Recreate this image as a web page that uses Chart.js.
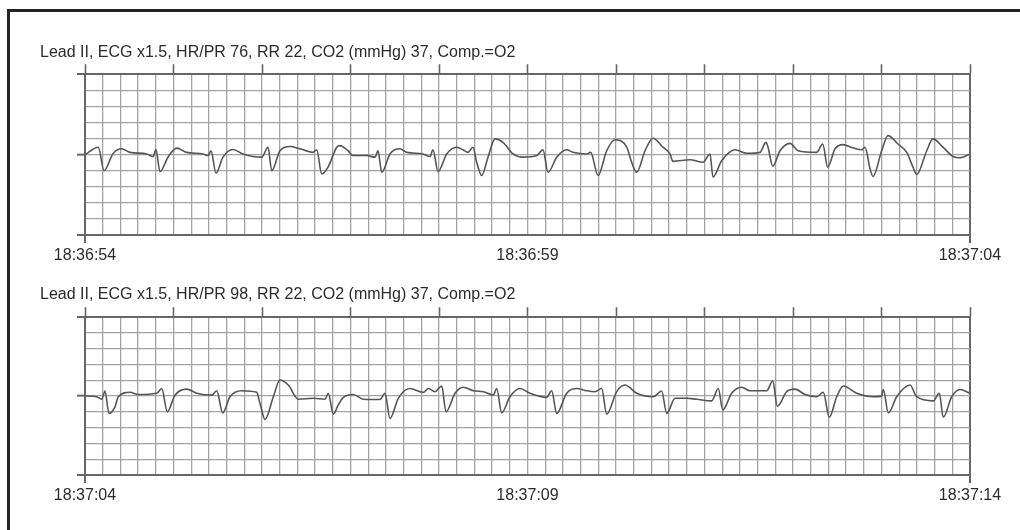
<!DOCTYPE html>
<html>
<head>
<meta charset="utf-8">
<title>ECG strips</title>
<script src="https://cdn.jsdelivr.net/npm/chart.js@4.4.1/dist/chart.umd.min.js"></script>
<style>
  html, body { margin: 0; padding: 0; background: #fff; }
  body { width: 1020px; height: 530px; position: relative; overflow: hidden; }
  .frame { position: absolute; left: 7px; top: 9px; width: 1100px; height: 600px;
           border-left: 3px solid #222; border-top: 3px solid #222; }
  canvas { position: absolute; left: 0; }
  #strip1 { top: 0; }
  #strip2 { top: 265px; }
</style>
</head>
<body>
<div class="frame"></div>
<canvas id="strip1" width="1020" height="265"></canvas>
<canvas id="strip2" width="1020" height="240"></canvas>
<script>
// strip headers and time stamps
const title1 = 'Lead II, ECG x1.5, HR/PR 76, RR 22, CO2 (mmHg) 37, Comp.=O2';
const title2 = 'Lead II, ECG x1.5, HR/PR 98, RR 22, CO2 (mmHg) 37, Comp.=O2';
const timeLabels1 = ['18:36:54', '18:36:59', '18:37:04'];
const timeLabels2 = ['18:37:04', '18:37:09', '18:37:14'];
const labelSeconds = [0, 5, 10];

// trace 1 (seconds from start, mV)
const strip1Sec = [0, 0.150, 0.215, 0.316, 0.415, 0.508, 0.697, 0.768, 0.802, 0.847,
  0.938, 1.036, 1.149, 1.333, 1.390, 1.424, 1.480, 1.559, 1.672, 1.785,
  1.997, 2.068, 2.110, 2.203, 2.316, 2.429, 2.576, 2.618, 2.675, 2.746,
  2.844, 2.881, 2.972, 3.028, 3.183, 3.277, 3.311, 3.353, 3.446, 3.559,
  3.635, 3.819, 3.898, 3.932, 3.989, 4.087, 4.200, 4.271, 4.328, 4.384,
  4.426, 4.482, 4.554, 4.633, 4.723, 4.836, 4.949, 5.104, 5.175, 5.232,
  5.330, 5.443, 5.514, 5.669, 5.714, 5.797, 5.895, 5.989, 6.121, 6.177,
  6.234, 6.328, 6.418, 6.531, 6.610, 6.644, 6.836, 6.983, 7.062, 7.096,
  7.194, 7.345, 7.477, 7.627, 7.695, 7.718, 7.771, 7.853, 7.966, 8.056,
  8.268, 8.336, 8.392, 8.475, 8.565, 8.678, 8.776, 8.814, 8.870, 8.904,
  9.002, 9.073, 9.186, 9.285, 9.356, 9.398, 9.511, 9.582, 9.695, 9.808,
  9.887, 10];
const strip1mV = [0.00, 0.23, -0.50, 0.03, 0.18, 0.07, 0.02, -0.06, 0.15, -0.53,
  -0.08, 0.20, 0.07, 0.02, -0.03, 0.12, -0.58, -0.08, 0.16, 0.02,
  -0.08, 0.23, -0.50, 0.12, 0.25, 0.18, 0.07, 0.15, -0.60, -0.39,
  0.23, 0.28, 0.12, -0.03, -0.03, -0.08, 0.12, -0.55, 0.02, 0.18,
  0.07, 0.02, -0.06, 0.15, -0.53, 0.02, 0.23, 0.15, 0.07, 0.23,
  -0.24, -0.65, -0.08, 0.49, 0.38, 0.02, -0.08, -0.03, 0.15, -0.55,
  -0.08, 0.15, 0.07, 0.02, 0.07, -0.65, 0.12, 0.46, 0.23, -0.24,
  -0.55, 0.12, 0.51, 0.23, 0.02, -0.21, -0.16, -0.24, 0.02, -0.70,
  -0.19, 0.15, 0.04, 0.07, 0.38, 0.23, -0.36, 0.12, 0.35, 0.12,
  0.07, 0.33, -0.39, 0.18, 0.31, 0.21, 0.15, 0.23, -0.44, -0.68,
  0.12, 0.59, 0.33, 0.07, -0.39, -0.62, 0.12, 0.49, 0.23, -0.06,
  -0.10, 0.02];

// trace 2 (seconds from start, mV)
const strip2Sec = [0, 0.132, 0.189, 0.226, 0.271, 0.339, 0.376, 0.508, 0.602, 0.810,
  0.867, 0.930, 1.017, 1.149, 1.262, 1.432, 1.488, 1.556, 1.638, 1.771,
  1.940, 1.977, 2.034, 2.128, 2.203, 2.297, 2.410, 2.580, 2.712, 2.749,
  2.806, 2.862, 2.919, 3.032, 3.145, 3.333, 3.390, 3.446, 3.540, 3.672,
  3.823, 3.879, 3.955, 4.031, 4.079, 4.181, 4.275, 4.388, 4.501, 4.614,
  4.652, 4.708, 4.802, 4.915, 5.028, 5.217, 5.273, 5.330, 5.443, 5.556,
  5.669, 5.763, 5.838, 5.895, 6.008, 6.102, 6.234, 6.421, 6.516, 6.573,
  6.667, 6.799, 6.912, 7.081, 7.156, 7.206, 7.307, 7.420, 7.514, 7.703,
  7.771, 7.823, 7.929, 8.023, 8.136, 8.268, 8.342, 8.410, 8.494, 8.568,
  8.720, 8.907, 9.002, 9.020, 9.077, 9.172, 9.322, 9.397, 9.585, 9.653,
  9.698, 9.793, 9.887, 10];
const strip2mV = [0.01, -0.02, -0.10, 0.16, -0.55, -0.34, -0.02, 0.12, 0.05, 0.09,
  0.24, -0.50, 0.03, 0.22, 0.09, 0.03, 0.17, -0.53, -0.02, 0.17,
  0.12, -0.23, -0.74, -0.02, 0.51, 0.35, -0.10, -0.07, -0.10, 0.09,
  -0.57, -0.28, -0.04, 0.05, -0.10, -0.11, 0.09, -0.71, -0.07, 0.24,
  0.12, 0.24, 0.14, 0.32, -0.50, 0.09, 0.28, 0.17, 0.14, 0.03,
  0.24, -0.53, -0.02, 0.24, 0.09, -0.04, 0.17, -0.55, 0.09, 0.24,
  0.17, 0.14, 0.24, -0.57, 0.14, 0.35, 0.09, -0.02, 0.16, -0.55,
  -0.07, -0.07, -0.10, -0.15, 0.24, -0.44, 0.09, 0.28, 0.17, 0.17,
  0.48, -0.32, 0.14, 0.22, 0.05, -0.02, 0.12, -0.67, -0.02, 0.32,
  0.09, -0.02, 0.00, 0.21, -0.53, -0.02, 0.35, -0.02, -0.15, 0.09,
  -0.67, -0.02, 0.21, 0.09];

const GRID = '#a3a3a3';
const EDGE = '#666666';
const TRACE = '#555555';

Chart.defaults.font.family = '"Liberation Sans", Arial, sans-serif';

function near(a, b) {
    return Math.abs(a - b) < 1e-6;
}

function makeStrip(canvasId, title, secs, mv, timeLabels, titlePad) {
    const points = secs.map((s, i) => ({ x: s, y: mv[i] }));
    const ctx = document.getElementById(canvasId).getContext('2d');
    return new Chart(ctx, {
        type: 'line',
        data: {
            datasets: [{
                data: points,
                borderColor: TRACE,
                borderWidth: 1.6,
                pointRadius: 0,
                cubicInterpolationMode: 'monotone',
                xAxisID: 'x',
                yAxisID: 'y'
            }]
        },
        options: {
            responsive: false,
            animation: false,
            layout: { padding: { left: 40, right: 50, top: 0, bottom: 0 } },
            plugins: {
                legend: { display: false },
                tooltip: { enabled: false },
                title: {
                    display: true,
                    text: title,
                    align: 'start',
                    color: '#2b2b2b',
                    font: { size: 16, weight: 'normal' },
                    padding: titlePad
                }
            },
            scales: {
                x: {
                    type: 'linear',
                    position: 'bottom',
                    min: 0,
                    max: 10,
                    afterFit: (scale) => { scale.height = 30; },
                    border: { color: EDGE, width: 2 },
                    grid: {
                        color: (c) => (near(c.tick.value, 0) || near(c.tick.value, 10)) ? EDGE : GRID,
                        lineWidth: (c) => (near(c.tick.value, 0) || near(c.tick.value, 10)) ? 2 : 1.3,
                        tickLength: 8,
                        tickColor: (c) => (near(c.tick.value, 0) || near(c.tick.value, 10)) ? EDGE : 'rgba(0,0,0,0)',
                        tickWidth: 2
                    },
                    ticks: {
                        stepSize: 0.2,
                        autoSkip: false,
                        maxRotation: 0,
                        minRotation: 0,
                        padding: 3,
                        color: '#2b2b2b',
                        font: { size: 16 },
                        callback: (v) => {
                            const i = labelSeconds.findIndex(s => near(s, v));
                            return i < 0 ? '' : timeLabels[i];
                        }
                    }
                },
                xTop: {
                    type: 'linear',
                    position: 'top',
                    min: 0,
                    max: 10,
                    border: { color: EDGE, width: 2 },
                    grid: {
                        drawOnChartArea: false,
                        tickLength: 10,
                        tickColor: EDGE,
                        tickWidth: 1.6
                    },
                    ticks: { stepSize: 1, display: false }
                },
                y: {
                    type: 'linear',
                    min: -2.5,
                    max: 2.5,
                    afterFit: (scale) => { scale.width = 45; },
                    border: { color: EDGE, width: 2 },
                    grid: {
                        color: (c) => near(Math.abs(c.tick.value), 2.5) ? EDGE : GRID,
                        lineWidth: (c) => near(Math.abs(c.tick.value), 2.5) ? 2 : 1.3,
                        tickLength: 8,
                        tickColor: (c) => (near(Math.abs(c.tick.value), 2.5) || near(c.tick.value, 0)) ? EDGE : 'rgba(0,0,0,0)',
                        tickWidth: 2
                    },
                    ticks: { stepSize: 0.5, display: false }
                }
            }
        }
    });
}

makeStrip('strip1', title1, strip1Sec, strip1mV, timeLabels1, { top: 43, bottom: 2 });
makeStrip('strip2', title2, strip2Sec, strip2mV, timeLabels2, { top: 20, bottom: 3 });
</script>
</body>
</html>
